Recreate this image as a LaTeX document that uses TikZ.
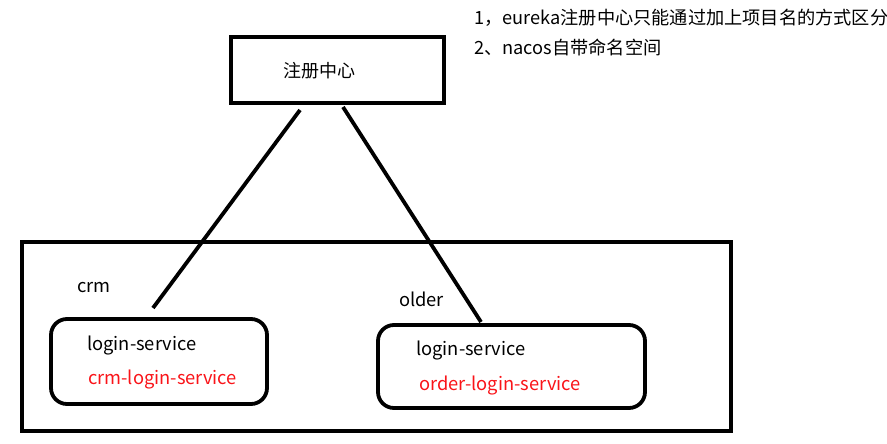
\documentclass[tikz,border=0pt]{standalone}
\usepackage{fontspec}
\setmainfont{Noto Sans CJK SC}
\begin{document}
\begin{tikzpicture}[x=1pt,y=-1pt,
  thickline/.style={line width=3.8pt},
  svcbox/.style={thickline,rounded corners=16pt},
  lbl/.style={anchor=west,inner sep=0pt,font=\fontsize{18.3}{20}\selectfont},
  redlbl/.style={lbl,text={rgb,255:red,250;green,20;blue,25}}]
\useasboundingbox[fill=white] (0,0) rectangle (887,444);
% registry
\node[thickline,draw,minimum width=213pt,minimum height=66pt,inner sep=0pt] (reg) at (337.5,70) {};
\node[lbl,font=\fontsize{18}{20}\selectfont] (regt) at (283,71) {注册中心};
% big container
\draw[thickline] (22,242) rectangle (731,431);
% service boxes
\draw[svcbox] (51,319) rectangle (267,404);
\coordinate (crmtop) at (153,308);
\draw[svcbox] (378,325) rectangle (645,408);
\coordinate (oldtop) at (481,322);
\coordinate (r1) at (300,110);
\coordinate (r2) at (343,107);
\draw[thickline] (r1) -- (crmtop);
\draw[thickline] (r2) -- (oldtop);
% labels
\node[lbl] (crm) at (77,288) {crm};
\node[lbl] (ls1) at (87,346) {login-service};
\node[redlbl] (cls) at (88,380) {crm-login-service};
\node[lbl] (older) at (399,299) {older};
\node[lbl] (ls2) at (416,351) {login-service};
\node[redlbl] (ols) at (419,386) {order-login-service};
% notes
\node[lbl,font=\fontsize{18.2}{20}\selectfont] (n1) at (474,18) {1，eureka注册中心只能通过加上项目名的方式区分};
\node[lbl,font=\fontsize{18.2}{20}\selectfont] (n2) at (474,47) {2、nacos自带命名空间};
\end{tikzpicture}
\end{document}
